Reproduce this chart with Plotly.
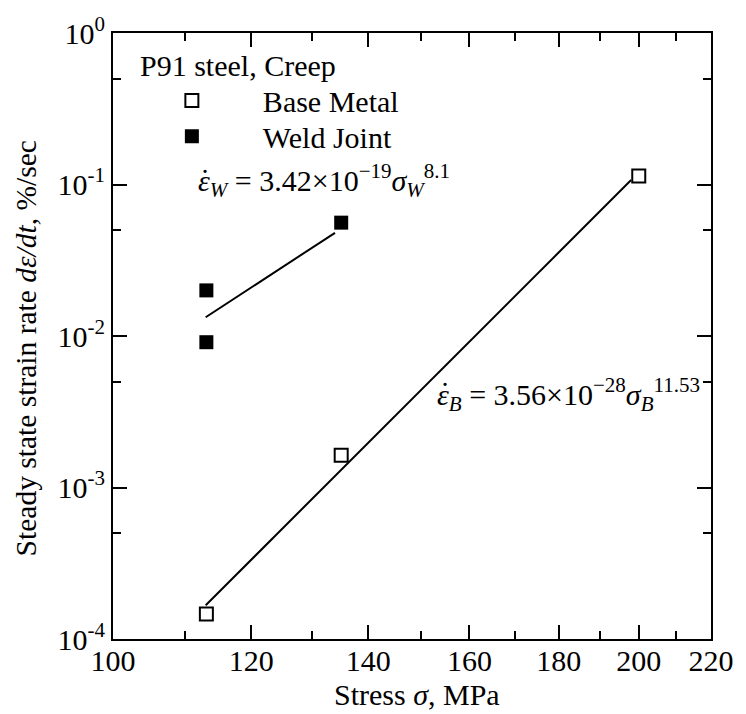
import plotly.graph_objects as go

# Data
base_stress = [113.1, 135.1, 200.0]
base_rate = [1.46e-4, 1.63e-3, 0.114]
weld_stress = [113.1, 113.1, 135.1]
weld_rate = [0.020, 0.0091, 0.056]
fit_base_stress = [113.0, 198.0]
fit_base_rate = [1.67e-4, 0.107]
fit_weld_stress = [113.0, 134.0]
fit_weld_rate = [0.0133, 0.048]

x_ticks = [100, 120, 140, 160, 180, 200, 220]
x_minor = [110, 130, 150, 170, 190, 210]
y_ticks = [1e-4, 1e-3, 1e-2, 1e-1, 1]
y_ticktext = ["10<sup>-4</sup>", "10<sup>-3</sup>", "10<sup>-2</sup>", "10<sup>-1</sup>", "10<sup>0</sup>"]
y_minor = [5e-4, 5e-3, 5e-2, 5e-1]

FONT = "Liberation Serif, Times New Roman, serif"
L, R, T, B = 113, 25, 29, 75
PW, PH = 746 - L - R, 714 - T - B


def px(xp):
    return (xp - L) / PW


def py(yp):
    return 1 - (yp - T) / PH


fig = go.Figure()
fig.add_trace(go.Scatter(x=fit_base_stress, y=fit_base_rate, mode="lines",
                         line=dict(color="black", width=2), showlegend=False))
fig.add_trace(go.Scatter(x=fit_weld_stress, y=fit_weld_rate, mode="lines",
                         line=dict(color="black", width=2), showlegend=False))
fig.add_trace(go.Scatter(x=base_stress, y=base_rate, mode="markers", name="Base Metal",
                         legend="legend",
                         marker=dict(symbol="square-open", size=13, color="black",
                                     line=dict(width=2, color="black"))))
fig.add_trace(go.Scatter(x=weld_stress, y=weld_rate, mode="markers", name="Weld Joint",
                         legend="legend2",
                         marker=dict(symbol="square", size=14, color="black")))

axis_common = dict(showgrid=False, zeroline=False, showline=True, linecolor="black",
                   linewidth=2, mirror="ticks", ticks="inside", ticklen=14, tickwidth=2,
                   tickcolor="black", tickfont=dict(family=FONT, size=30, color="black"))

fig.update_xaxes(type="log", range=[2, 2.3424], tickvals=x_ticks,
                 ticktext=[str(v) for v in x_ticks], ticklabelstandoff=-6,
                 minor=dict(tickvals=x_minor, ticks="inside", ticklen=8, tickwidth=2,
                            tickcolor="black", showgrid=False),
                 **axis_common)
fig.update_yaxes(type="log", range=[-4, 0], tickvals=y_ticks, ticktext=y_ticktext,
                 minor=dict(tickvals=y_minor, ticks="inside", ticklen=8, tickwidth=2,
                            tickcolor="black", showgrid=False),
                 **axis_common)

leg_common = dict(xanchor="left", yanchor="middle",
                  font=dict(family=FONT, size=30, color="black"),
                  bgcolor="rgba(0,0,0,0)", itemwidth=132)
fig.update_layout(
    width=746, height=714,
    margin=dict(l=L, r=R, t=T, b=B),
    paper_bgcolor="white", plot_bgcolor="white",
    font=dict(family=FONT, color="black"),
    legend=dict(x=px(121), y=py(97), **leg_common),
    legend2=dict(x=px(121), y=py(133), **leg_common),
    showlegend=True,
)

annotations = [
    dict(text="P91 steel, Creep", x=138, y=62),
    dict(text="<i>ε</i><sub><i>W</i></sub> = 3.42×10<sup>−19</sup><i>σ</i><sub><i>W</i></sub><sup>8.1</sup>",
         x=197, y=177),
    dict(text="<i>ε</i><sub><i>B</i></sub> = 3.56×10<sup>−28</sup><i>σ</i><sub><i>B</i></sub><sup>11.53</sup>",
         x=440, y=393),
]
for a in annotations:
    fig.add_annotation(text=a["text"], xref="paper", yref="paper",
                       x=px(a["x"]), y=py(a["y"]),
                       xanchor="left", yanchor="middle", showarrow=False,
                       font=dict(family=FONT, size=30, color="black"))
# dots over epsilon (time derivative)
for dx, dy in [(207, 176), (451, 391)]:
    fig.add_annotation(text="˙", xref="paper", yref="paper", x=px(dx), y=py(dy),
                       xanchor="center", yanchor="middle", showarrow=False,
                       font=dict(family=FONT, size=30, color="black"))

fig.add_annotation(text="Stress <i>σ</i>, MPa", xref="paper", yref="paper",
                   x=px(422), y=py(695), xanchor="center", yanchor="middle",
                   showarrow=False, font=dict(family=FONT, size=30, color="black"))
fig.add_annotation(text="Steady state strain rate <i>dε/dt</i>, %/sec", xref="paper", yref="paper",
                   x=px(24), y=py(346), xanchor="center", yanchor="middle",
                   textangle=-90, showarrow=False, font=dict(family=FONT, size=29.5, color="black"))

fig.write_html("out.html")
